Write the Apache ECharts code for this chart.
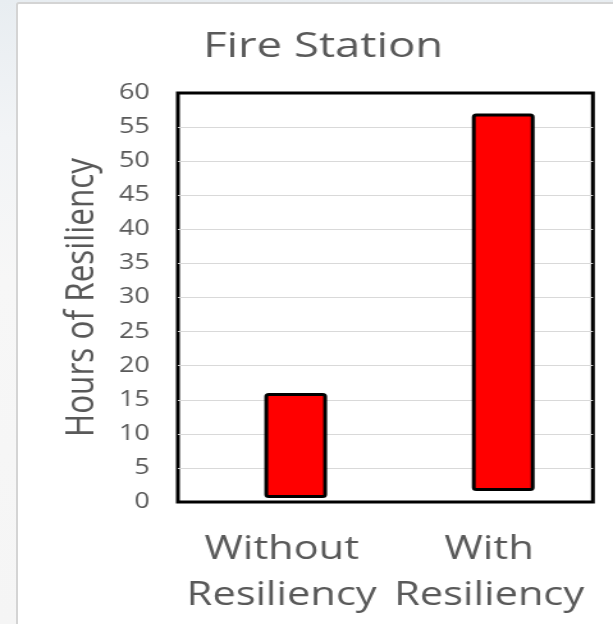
<!DOCTYPE html>
<html>
<head>
<meta charset="utf-8">
<script src="https://cdn.jsdelivr.net/npm/echarts@6/dist/echarts.min.js"></script>
<style>
  html, body { margin: 0; padding: 0; }
  body {
    width: 613px; height: 624px; overflow: hidden; position: relative;
    background: linear-gradient(180deg, #e8edf1 0%, #f2f4f6 22%, #f7f7f7 45%, #f5f5f5 100%);
  }
  #card {
    position: absolute; left: 16px; top: 2px; width: 640px; height: 660px;
    background: #fff; border: 2px solid #d4d4d4; border-radius: 3px;
  }
  /* chart laid out on a narrower canvas and widened, like the wide-set slide it comes from */
  #chart {
    position: absolute; left: 0; top: 0; width: 479px; height: 624px;
    transform: scaleX(1.2797); transform-origin: 0 0;
  }
</style>
</head>
<body>
<div id="card"></div>
<div id="chart"></div>
<script>
// Hours of resiliency per scenario (each bar spans from its start to its end value)
const categories = ['Without\nResiliency', 'With\nResiliency'];
const barStart = [0.6, 1.6];
const barEnd = [16, 57];
const yMin = 0;
const yMax = 60;
const yStep = 5;

const textColor = '#595959';
const font = 'Open Sans';

const chart = echarts.init(document.getElementById('chart'), null, { renderer: 'canvas' });

chart.setOption({
  animation: false,
  backgroundColor: 'transparent',
  title: {
    text: 'Fire Station',
    left: 247.5,
    top: 24,
    textAlign: 'center',
    textStyle: { color: textColor, fontSize: 35.5, fontWeight: 'normal', fontFamily: font }
  },
  grid: [
    { left: 139, right: 15.7, top: 93, bottom: 122, show: true, borderColor: '#000', borderWidth: 3, backgroundColor: 'transparent' },
    { left: 150, right: 4.7, top: 93, bottom: 122 }
  ],
  xAxis: [
    {
      type: 'category', gridIndex: 0, data: categories,
      axisLine: { show: false }, axisTick: { show: false },
      axisLabel: { interval: 0, color: textColor, fontSize: 32.5, lineHeight: 46, margin: 25, fontFamily: font }
    },
    {
      type: 'category', gridIndex: 1, data: categories, show: false
    }
  ],
  yAxis: [
    {
      type: 'value', gridIndex: 0, min: yMin, max: yMax, interval: yStep,
      name: 'Hours of Resiliency', nameLocation: 'middle', nameGap: 59,
      nameTextStyle: { color: textColor, fontSize: 31.5, fontFamily: font },
      axisLine: { show: false }, axisTick: { show: false },
      axisLabel: { color: textColor, fontSize: 21, margin: 22, fontFamily: font },
      splitLine: { show: true, showMinLine: false, showMaxLine: false, lineStyle: { color: '#d9d9d9', width: 1 } }
    },
    {
      type: 'value', gridIndex: 1, min: yMin, max: yMax, interval: yStep, show: false,
      splitLine: { show: false }
    }
  ],
  series: [
    {
      type: 'bar', xAxisIndex: 1, yAxisIndex: 1, stack: 'span', silent: true,
      barWidth: 49, data: barStart,
      itemStyle: { color: 'transparent' }
    },
    {
      type: 'bar', xAxisIndex: 1, yAxisIndex: 1, stack: 'span',
      barWidth: 49, data: barEnd.map((v, i) => v - barStart[i]),
      itemStyle: { color: '#ff0000', borderColor: '#000', borderWidth: 3, borderRadius: 2 }
    }
  ]
});
</script>
</body>
</html>
